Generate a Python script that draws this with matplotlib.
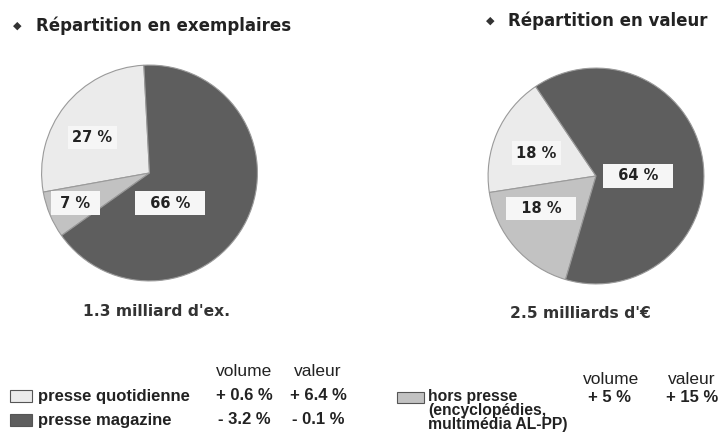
import numpy as np
import matplotlib.pyplot as plt

plt.rcParams['font.family'] = ['Liberation Sans', 'DejaVu Sans']

# data
categories = ['presse quotidienne', 'hors presse', 'presse magazine']
hors_presse_detail = ['(encyclopédies,', 'multimédia AL-PP)']
share_copies = [27, 7, 66]
share_value = [18, 18, 64]
total_copies = "1.3 milliard d'ex."
total_value = "2.5 milliards d'\u20ac"
growth_volume = ['+ 0.6 %', '+ 5 %', '- 3.2 %']
growth_value = ['+ 6.4 %', '+ 15 %', '- 0.1 %']

colors = ['#ebebeb', '#c2c2c2', '#5e5e5e']

W, H = 723, 437
fig = plt.figure(figsize=(W / 100, H / 100), dpi=100)


def px(x, y):
    return x / W, 1 - y / H


def draw_pie(cx, cy, r, values, start, label_pos, label_pad):
    ax = fig.add_axes([(cx - r) / W, (H - cy - r) / H, 2 * r / W, 2 * r / H])
    ax.pie(values, colors=colors, startangle=start, counterclock=True,
           wedgeprops=dict(edgecolor='#9a9a9a', linewidth=0.8))
    ax.set_xlim(-1.01, 1.01)
    ax.set_ylim(-1.01, 1.01)
    for v, (lx, ly), sp in zip(values, label_pos, label_pad):
        ax.text(lx, ly, sp + f'{v} %' + sp, ha='center', va='center',
                fontsize=10.5, fontweight='bold', color='#222222',
                family='DejaVu Sans',
                bbox=dict(boxstyle='square,pad=0.3', fc='#f6f6f6', ec='none'))
    return ax


# left pie: light, gray, dark counter-clockwise from top
draw_pie(149.5, 173, 109, share_copies, 93,
         [(-0.53, 0.33), (-0.69, -0.28), (0.19, -0.28)], ['', ' ', '  '])
draw_pie(596, 176, 109, share_value, 124,
         [(-0.55, 0.21), (-0.51, -0.30), (0.39, 0.0)], ['', '  ', '  '])

# titles
title_kw = dict(fontsize=12, fontweight='bold', color='#222222',
                va='center', family='DejaVu Sans')
fig.text(*px(13, 26), '\u25c6', fontsize=8, color='#333333', va='center')
fig.text(*px(36, 26), 'Répartition en exemplaires', **title_kw)
fig.text(*px(486, 21), '\u25c6', fontsize=8, color='#333333', va='center')
fig.text(*px(508, 21), 'Répartition en valeur', **title_kw)

sub_kw = dict(fontsize=11.2, fontweight='bold', color='#333333',
              ha='center', va='center', family='DejaVu Sans')
fig.text(*px(157, 311), total_copies, **sub_kw)
fig.text(*px(580, 313), total_value, **sub_kw)

# legend / table
head_kw = dict(fontsize=12.5, color='#222222', va='center', ha='center')
leg_kw = dict(fontsize=12, fontweight='bold', color='#222222', va='center')
fig.text(*px(244, 371), 'volume', **head_kw)
fig.text(*px(318, 371), 'valeur', **head_kw)
fig.text(*px(611, 380), 'volume', **head_kw)
fig.text(*px(692, 380), 'valeur', **head_kw)

rows = [(0, 396), (2, 420)]
for i, y in rows:
    fig.patches.append(plt.Rectangle(px(10, y + 6), 22 / W, 12 / H,
                                     transform=fig.transFigure,
                                     fc=colors[i], ec='#555555', lw=0.8))
    fig.text(*px(38, y), categories[i], **leg_kw)
    fig.text(*px(244, y), growth_volume[i], ha='center', **leg_kw)
    fig.text(*px(318, y), growth_value[i], ha='center', **leg_kw)

fig.patches.append(plt.Rectangle(px(397, 403), 27 / W, 11 / H,
                                 transform=fig.transFigure,
                                 fc=colors[1], ec='#555555', lw=0.8))
small_kw = dict(leg_kw, fontsize=11.3)
fig.text(*px(428, 396), categories[1], **small_kw)
for k, line in enumerate(hors_presse_detail):
    fig.text(*px(428, 411 + 14 * k), line, **small_kw)
fig.text(*px(610, 398), growth_volume[1], ha='center', **leg_kw)
fig.text(*px(692, 398), growth_value[1], ha='center', **leg_kw)

fig.savefig('out.png', dpi=100)
